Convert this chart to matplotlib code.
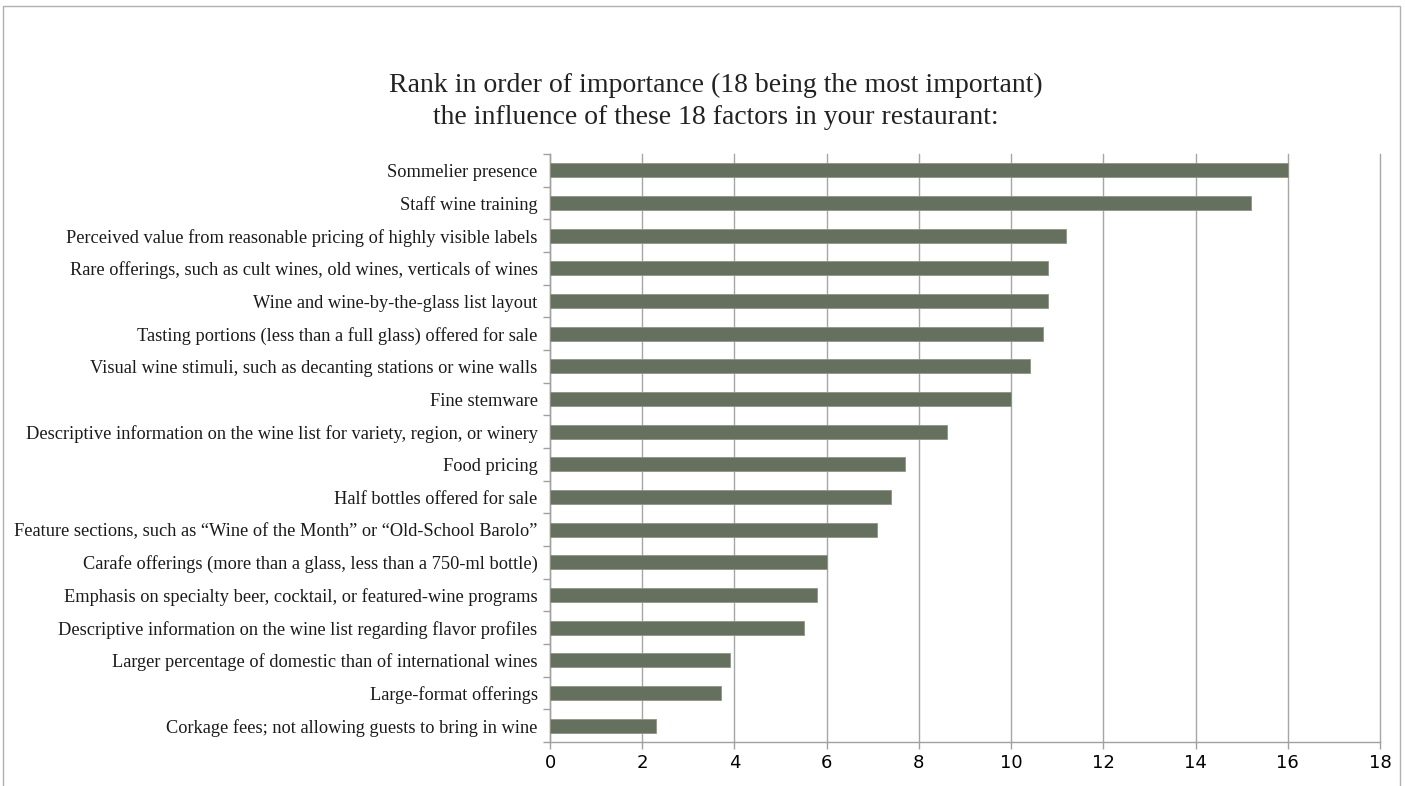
import matplotlib
matplotlib.use("Agg")
import matplotlib.pyplot as plt
from matplotlib.patches import Rectangle
import numpy as np

categories = [
    "Sommelier presence",
    "Staff wine training",
    "Perceived value from reasonable pricing of highly visible labels",
    "Rare offerings, such as cult wines, old wines, verticals of wines",
    "Wine and wine-by-the-glass list layout",
    "Tasting portions (less than a full glass) offered for sale",
    "Visual wine stimuli, such as decanting stations or wine walls",
    "Fine stemware",
    "Descriptive information on the wine list for variety, region, or winery",
    "Food pricing",
    "Half bottles offered for sale",
    "Feature sections, such as \u201cWine of the Month\u201d or \u201cOld-School Barolo\u201d",
    "Carafe offerings (more than a glass, less than a 750-ml bottle)",
    "Emphasis on specialty beer, cocktail, or featured-wine programs",
    "Descriptive information on the wine list regarding flavor profiles",
    "Larger percentage of domestic than of international wines",
    "Large-format offerings",
    "Corkage fees; not allowing guests to bring in wine",
]
values = [16.0, 15.2, 11.2, 10.8, 10.8, 10.7, 10.4, 10.0, 8.6, 7.7, 7.4, 7.1,
          6.0, 5.8, 5.5, 3.9, 3.7, 2.3]
x_ticks = [0, 2, 4, 6, 8, 10, 12, 14, 16, 18]
title_lines = ["Rank in order of importance (18 being the most important)",
               "the influence of these 18 factors in your restaurant:"]

fig = plt.figure(figsize=(14.05, 7.86), dpi=100)
ax = fig.add_axes([550/1405, 1-742/786, 830/1405, (742-154)/786])

n = len(categories)
ypos = np.arange(n)[::-1]
ax.barh(ypos, values, height=0.42, color="#66705e", edgecolor="#8e9585",
        linewidth=0.6, zorder=3)

ax.set_xlim(0, 18)
ax.set_ylim(-0.5, n - 0.5)
ax.set_xticks(x_ticks)
ax.set_xticklabels([str(t) for t in x_ticks],
                   family=["Liberation Sans Narrow", "DejaVu Sans"], fontsize=13)
ax.set_yticks(ypos)
ax.set_yticklabels(categories, family=["Liberation Serif", "DejaVu Serif"],
                   fontsize=13.2, color="#1a1a1a")
ax.set_yticks(np.arange(-0.5, n, 1.0), minor=True)
ax.tick_params(axis="y", which="major", length=0, pad=9)
ax.tick_params(axis="y", which="minor", length=5, color="#a0a0a0", width=1)
ax.tick_params(axis="x", which="major", length=5, color="#a0a0a0", width=1, pad=4)

ax.grid(axis="x", color="#a6a6a6", linewidth=1, zorder=0)
for gl in ax.get_xgridlines():
    gl.set_clip_on(False)
ax.set_axisbelow(True)
for s in ["top", "right"]:
    ax.spines[s].set_visible(False)
for s in ["left", "bottom"]:
    ax.spines[s].set_color("#a0a0a0")
    ax.spines[s].set_linewidth(1)

fig.text(716/1405, 1-85/786, title_lines[0], ha="center", va="center",
         family=["Liberation Serif", "DejaVu Serif"], fontsize=20, color="#222222")
fig.text(716/1405, 1-117/786, title_lines[1], ha="center", va="center",
         family=["Liberation Serif", "DejaVu Serif"], fontsize=20, color="#222222")

fig.patches.append(Rectangle((3/1405, -0.05), (1400-3)/1405, 1.05 - 6/786,
                             transform=fig.transFigure, fill=False,
                             edgecolor="#b0b0b0", linewidth=1))

fig.savefig("out.png", dpi=100)
